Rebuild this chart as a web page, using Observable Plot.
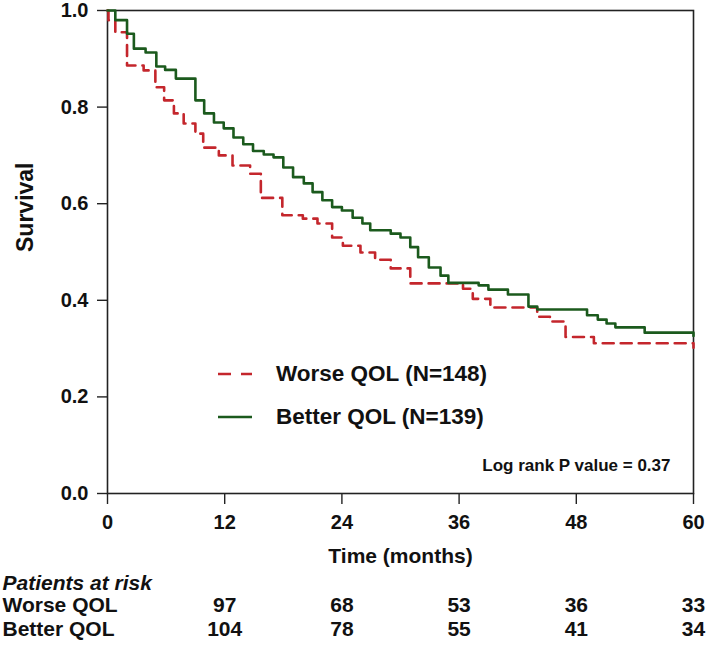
<!DOCTYPE html>
<html>
<head>
<meta charset="utf-8">
<script src="https://cdn.jsdelivr.net/npm/d3@7"></script>
<script src="https://cdn.jsdelivr.net/npm/@observablehq/plot@0.6"></script>
<style>
  html, body { margin: 0; padding: 0; background: #fff; }
  #wrap { position: relative; width: 709px; height: 646px; font-family: "Liberation Sans", Arial, sans-serif; }
  #legend { position: absolute; left: 216px; top: 352px; font-weight: bold; font-size: 22.5px; color: #111; }
  #legend .row { display: flex; align-items: center; height: 43px; }
  #legend svg { width: 60px; height: 10px; }
</style>
</head>
<body>
<div id="wrap"></div>
<script>
// Kaplan-Meier step points (months, survival)
const worseTimes = [0, 0.1, 0.8, 2.0, 3.7, 4.9, 5.8, 6.8, 7.8, 9.0, 9.8, 11.4, 12.8, 14.6, 15.7, 17.9, 20.0, 21.5, 23.0, 24.1, 25.9, 27.4, 29.0, 31.0, 36.4, 37.4, 39.2, 44.0, 45.3, 46.9, 49.8, 60];
const worseSurv  = [1.0, 0.98, 0.955, 0.886, 0.876, 0.841, 0.814, 0.787, 0.766, 0.745, 0.716, 0.70, 0.679, 0.662, 0.612, 0.576, 0.569, 0.559, 0.53, 0.513, 0.499, 0.484, 0.466, 0.435, 0.424, 0.403, 0.385, 0.366, 0.356, 0.324, 0.311, 0.302];
const betterTimes = [0, 0.8, 2.0, 2.7, 3.9, 5.0, 5.9, 7.0, 9.0, 9.9, 10.9, 11.9, 12.9, 13.9, 14.9, 16.0, 17.0, 18.0, 19.0, 20.1, 21.0, 22.0, 23.0, 24.0, 25.1, 26.1, 26.9, 29.0, 30.0, 31.0, 31.8, 32.9, 34.1, 34.9, 38.0, 39.0, 41.0, 43.1, 44.0, 49.1, 50.2, 51.1, 52.0, 55.0, 60];
const betterSurv  = [1.0, 0.98, 0.952, 0.921, 0.913, 0.884, 0.877, 0.859, 0.814, 0.787, 0.768, 0.756, 0.737, 0.723, 0.709, 0.702, 0.696, 0.675, 0.655, 0.642, 0.624, 0.607, 0.593, 0.586, 0.571, 0.559, 0.545, 0.538, 0.53, 0.51, 0.489, 0.468, 0.451, 0.436, 0.431, 0.422, 0.412, 0.387, 0.381, 0.369, 0.36, 0.352, 0.344, 0.333, 0.326];

const xTicks = [0, 12, 24, 36, 48, 60];
const yTicks = [0, 0.2, 0.4, 0.6, 0.8, 1.0];

const riskTimes = [12, 24, 36, 48, 60];
const riskWorse = [97, 68, 53, 36, 33];
const riskBetter = [104, 78, 55, 41, 34];

const seriesNames = ["Worse QOL (N=148)", "Better QOL (N=139)"];
const rowNames = ["Worse QOL", "Better QOL"];
const pText = "Log rank P value = 0.37";

const RED = "#c4262c", GREEN = "#1b5a1d";

const worse = worseTimes.map((t, i) => ({t, s: worseSurv[i]}));
const better = betterTimes.map((t, i) => ({t, s: betterSurv[i]}));
const riskW = riskTimes.map((t, i) => ({t, n: riskWorse[i]}));
const riskB = riskTimes.map((t, i) => ({t, n: riskBetter[i]}));

const chart = Plot.plot({
  width: 709,
  height: 646,
  marginLeft: 107,
  marginRight: 16,
  marginTop: 10,
  marginBottom: 153,
  style: {fontFamily: "'Liberation Sans', Arial, sans-serif", fontWeight: "bold", fontSize: "19px", color: "#111", background: "#fff"},
  x: {domain: [0, 60]},
  y: {domain: [0, 1]},
  marks: [
    Plot.axisY({ticks: yTicks, tickFormat: d3.format(".1f"), tickSize: 10, tickPadding: 9, label: null, fontSize: 20, stroke: "#222", strokeWidth: 1.4}),
    Plot.axisX({ticks: xTicks, tickSize: 11, tickPadding: 10, label: null, fontSize: 20, stroke: "#222", strokeWidth: 1.4}),
    Plot.frame({stroke: "#222", strokeWidth: 1.6}),
    Plot.line(worse, {x: "t", y: "s", curve: "step-after", stroke: RED, strokeWidth: 2.6, strokeDasharray: "11,7"}),
    Plot.line(better, {x: "t", y: "s", curve: "step-after", stroke: GREEN, strokeWidth: 2.6}),
    Plot.text([pText], {frameAnchor: "bottom-right", dx: -23, dy: -23, textAnchor: "end", fontSize: 17, fontWeight: "bold"}),
    Plot.text(["Survival"], {frameAnchor: "left", dx: -82, rotate: -90, fontSize: 23, fontWeight: "bold"}),
    Plot.text(["Time (months)"], {frameAnchor: "bottom", dy: 69, fontSize: 21, fontWeight: "bold"}),
    Plot.text(["Patients at risk"], {frameAnchor: "bottom-left", dx: -105, dy: 96, textAnchor: "start", fontSize: 21, fontWeight: "bold", fontStyle: "italic"}),
    Plot.text([rowNames[0]], {frameAnchor: "bottom-left", dx: -105, dy: 118, textAnchor: "start", fontSize: 21, fontWeight: "bold"}),
    Plot.text([rowNames[1]], {frameAnchor: "bottom-left", dx: -105, dy: 142, textAnchor: "start", fontSize: 21, fontWeight: "bold"}),
    Plot.text(riskW, {x: "t", text: "n", frameAnchor: "bottom", dy: 118, fontSize: 21, fontWeight: "bold"}),
    Plot.text(riskB, {x: "t", text: "n", frameAnchor: "bottom", dy: 142, fontSize: 21, fontWeight: "bold"})
  ]
});

const wrap = document.getElementById("wrap");
wrap.appendChild(chart);

const legend = document.createElement("div");
legend.id = "legend";
legend.innerHTML = `
  <div class="row"><svg><line x1="2" x2="36" y1="5" y2="5" stroke="${RED}" stroke-width="2.6" stroke-dasharray="13,10"/></svg><span>${seriesNames[0]}</span></div>
  <div class="row"><svg><line x1="2" x2="36" y1="5" y2="5" stroke="${GREEN}" stroke-width="2.6"/></svg><span>${seriesNames[1]}</span></div>`;
wrap.appendChild(legend);
</script>
</body>
</html>
